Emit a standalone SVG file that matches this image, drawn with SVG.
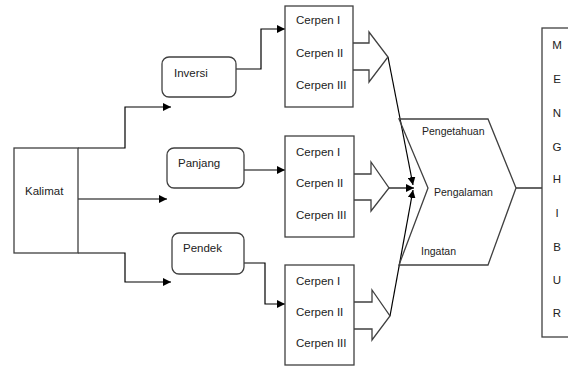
<svg xmlns="http://www.w3.org/2000/svg" width="568" height="368" viewBox="0 0 568 368">
<defs>
<marker id="ah" viewBox="0 0 10 10" refX="10" refY="5" markerWidth="8" markerHeight="8" markerUnits="userSpaceOnUse" orient="auto">
<path d="M0,0 L10,5 L0,10 z" fill="#000"/>
</marker>
<style>
.box{fill:#fff;stroke:#404040;stroke-width:1.3}
.shape{fill:none;stroke:#404040;stroke-width:1.3}
.con{fill:none;stroke:#000;stroke-width:1.2}
text{font-family:"Liberation Sans",Arial,sans-serif;font-size:11.5px;fill:#222;dominant-baseline:central}
.sm{font-size:10.5px}
</style>
</defs>
<rect width="568" height="368" fill="#fff"/>
<g id="connectors">
<path class="con" d="M78,148 H125 V107 H171" marker-end="url(#ah)"/>
<path class="con" d="M78,199 H167" marker-end="url(#ah)"/>
<path class="con" d="M78,253 H125 V282 H171" marker-end="url(#ah)"/>
<path class="con" d="M236,69 H261 V29 H285" marker-end="url(#ah)"/>
<path class="con" d="M244,170 H285" marker-end="url(#ah)"/>
<path class="con" d="M244,263 H265 V304 H285" marker-end="url(#ah)"/>
<path class="con" d="M388,57 L413,185" marker-end="url(#ah)"/>
<path class="con" d="M389,188 H414" marker-end="url(#ah)"/>
<path class="con" d="M390,316 L413,190" marker-end="url(#ah)"/>
<path class="con" d="M516,188 H542"/>
</g>
<g id="kalimat">
<rect class="box" x="14" y="148" width="64" height="105"/>
<text x="25" y="191">Kalimat</text>
</g>
<g id="inversi">
<rect class="box" x="162" y="57" width="74" height="40" rx="7"/>
<text x="174" y="73">Inversi</text>
</g>
<g id="panjang">
<rect class="box" x="167" y="148" width="77" height="40" rx="7"/>
<text x="178" y="163">Panjang</text>
</g>
<g id="pendek">
<rect class="box" x="172" y="233" width="72" height="41" rx="7"/>
<text x="183" y="248">Pendek</text>
</g>
<g id="cerpen1">
<rect class="box" x="285" y="6" width="68" height="101"/>
<path class="shape" d="M353,43 H369 V32 L388,57 L369,82 V70 H353"/>
<text x="296" y="20">Cerpen I</text>
<text x="296" y="53">Cerpen II</text>
<text x="296" y="85">Cerpen III</text>
</g>
<g id="cerpen2">
<rect class="box" x="285" y="136" width="69" height="101"/>
<path class="shape" d="M354,174 H371 V162 L389,188 L371,211 V200 H354"/>
<text x="296" y="152">Cerpen I</text>
<text x="296" y="183">Cerpen II</text>
<text x="296" y="215">Cerpen III</text>
</g>
<g id="cerpen3">
<rect class="box" x="285" y="265" width="69" height="100"/>
<path class="shape" d="M354,302 H372 V290 L390,316 L372,340 V329 H354"/>
<text x="296" y="281">Cerpen I</text>
<text x="296" y="312">Cerpen II</text>
<text x="296" y="343">Cerpen III</text>
</g>
<g id="hasil">
<path class="shape" d="M399,119 H488 L516,188 L488,265 H399 L428,188 Z"/>
<text class="sm" x="422" y="131">Pengetahuan</text>
<text class="sm" x="434" y="192">Pengalaman</text>
<text class="sm" x="421" y="251">Ingatan</text>
</g>
<g id="menghibur">
<rect class="box" x="542" y="28" width="40" height="309"/>
<g text-anchor="middle">
<text x="557" y="45">M</text>
<text x="557" y="79">E</text>
<text x="557" y="113">N</text>
<text x="557" y="147">G</text>
<text x="557" y="179">H</text>
<text x="557" y="213">I</text>
<text x="557" y="247">B</text>
<text x="557" y="280">U</text>
<text x="557" y="313">R</text>
</g>
</g>
</svg>
